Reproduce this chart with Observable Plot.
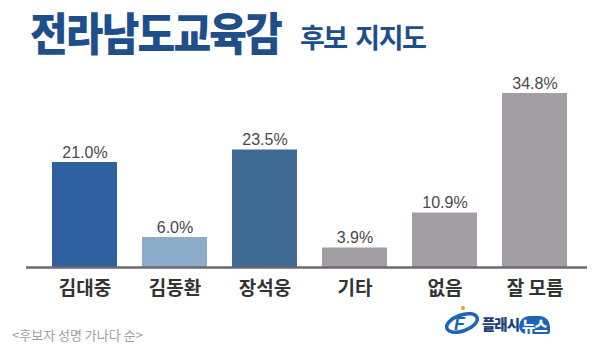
<!DOCTYPE html>
<html>
<head>
<meta charset="utf-8">
<script src="https://cdn.jsdelivr.net/npm/d3@7"></script>
<script src="https://cdn.jsdelivr.net/npm/@observablehq/plot@0.6"></script>
<style>
  html, body { margin: 0; padding: 0; background: #fff; }
  #wrap { position: relative; width: 600px; height: 352px; overflow: hidden; font-family: "Noto Sans CJK KR", "Noto Sans", sans-serif; }
  #chart { position: absolute; left: 0; top: 0; }
  .t { position: absolute; color: #1f4f8a; white-space: nowrap; line-height: 1; }
  #title { left: 30px; top: 9px; font-size: 45px; font-weight: 900; letter-spacing: -2px; transform: scaleX(0.91); transform-origin: left top; }
  #subtitle { left: 300px; top: 23px; font-size: 27px; font-weight: 700; letter-spacing: -1.5px; word-spacing: 4px; }
  #note { position: absolute; left: 12px; top: 327px; font-size: 13px; color: #a0a0a0; line-height: 1.2; }
  #logo { position: absolute; left: 443px; top: 305px; height: 30px; display: flex; align-items: flex-end; }
  #logo .f { width: 38px; height: 30px; }
  #logo .txt { font-size: 14.5px; font-weight: 900; color: #1d3f7a; letter-spacing: -1px; margin-left: 1px; line-height: 1; margin-bottom: 4px; }
  #logo .news { font-size: 14.5px; font-weight: 900; color: #fff; background: #1e66b5; border-radius: 11px 11px 3px 8px; padding: 3px 3px 1px 3px; letter-spacing: -1px; line-height: 1; margin-bottom: 1px; }
</style>
</head>
<body>
<div id="wrap">
  <div id="chart"></div>
  <div class="t" id="title">전라남도교육감</div>
  <div class="t" id="subtitle">후보 지지도</div>
  <div id="note">&lt;후보자 성명 가나다 순&gt;</div>
  <div id="logo">
    <svg class="f" width="38" height="30" viewBox="0 0 38 30">
      <ellipse cx="19" cy="18" rx="16" ry="8" fill="none" stroke="#1e66b5" stroke-width="3.5" transform="rotate(-20 19 18)"/>
      <text x="11" y="25" font-family="Liberation Sans" font-style="italic" font-weight="bold" font-size="18" fill="#1e66b5">F</text>
      <circle cx="20" cy="3" r="2" fill="#f0a020"/>
    </svg>
    <span class="txt">플래시</span><span class="news">뉴스</span>
  </div>
</div>
<script>
const names = ["김대중", "김동환", "장석웅", "기타", "없음", "잘 모름"];
const values = [21.0, 6.0, 23.5, 3.9, 10.9, 34.8];
const barColors = ["#2f60a0", "#8cadc9", "#3f6a91", "#a29ea3", "#a29ea3", "#a29ea3"];

const data = names.map((n, i) => ({name: n, value: values[i]}));

const chart = Plot.plot({
  width: 600,
  height: 352,
  marginTop: 80,
  marginBottom: 85,
  marginLeft: 26,
  marginRight: 7,
  style: { background: "transparent", fontFamily: "'Noto Sans CJK KR', sans-serif" },
  x: { domain: names, padding: 0.28, axis: null },
  y: { domain: [0, 37.4], axis: null },
  color: { domain: names, range: barColors },
  marks: [
    Plot.barY(data, { x: "name", y: "value", fill: "name" }),
    Plot.ruleY([0], { stroke: "#6d6970", strokeWidth: 2.5, insetRight: 6 }),
    Plot.text(data, {
      x: "name", y: "value", text: d => d.value.toFixed(1) + "%",
      lineAnchor: "bottom", dy: -5, fontSize: 16, fill: "#4a4a4a",
      fontFamily: "'Liberation Sans', Arial, sans-serif"
    }),
    Plot.text(data, {
      x: "name", text: "name", frameAnchor: "bottom",
      lineAnchor: "middle", dy: 21, fontSize: 19, fontWeight: "bold", fill: "#333"
    })
  ]
});
document.getElementById("chart").appendChild(chart);
</script>
</body>
</html>
